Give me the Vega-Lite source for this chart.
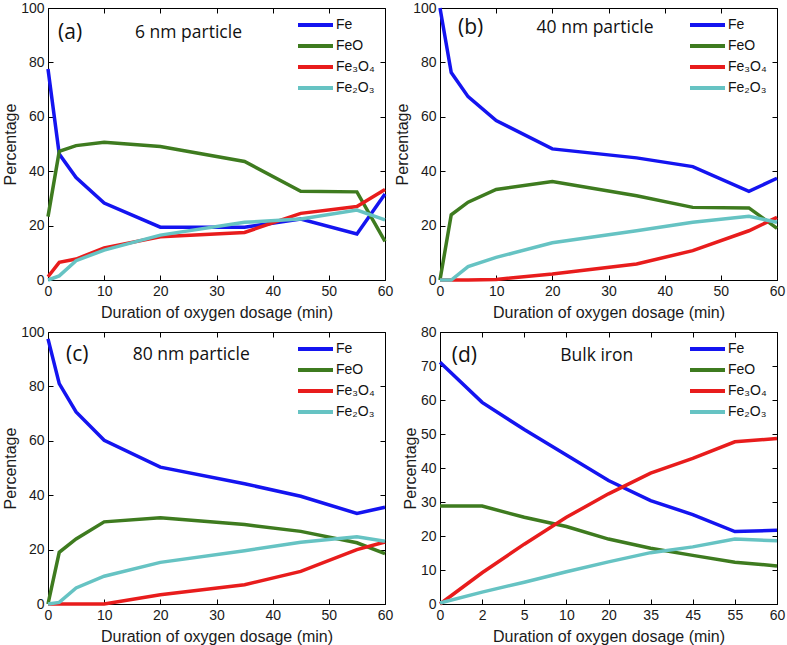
{
  "$schema": "https://vega.github.io/schema/vega-lite/v6.json",
  "padding": {"left": 2, "top": 0, "right": 0, "bottom": 0},
  "background": "white",
  "datasets": {
    "series": [
      {"panel":"a","species":"Fe","t":0,"pct":77.6},{"panel":"a","species":"Fe","t":2,"pct":46.3},{"panel":"a","species":"Fe","t":5,"pct":37.7},{"panel":"a","species":"Fe","t":10,"pct":28.3},{"panel":"a","species":"Fe","t":20,"pct":19.4},{"panel":"a","species":"Fe","t":35,"pct":19.4},{"panel":"a","species":"Fe","t":45,"pct":22.4},{"panel":"a","species":"Fe","t":55,"pct":16.9},{"panel":"a","species":"Fe","t":60,"pct":31.6},
      {"panel":"a","species":"FeO","t":0,"pct":23.3},{"panel":"a","species":"FeO","t":2,"pct":47.3},{"panel":"a","species":"FeO","t":5,"pct":49.4},{"panel":"a","species":"FeO","t":10,"pct":50.6},{"panel":"a","species":"FeO","t":20,"pct":49.1},{"panel":"a","species":"FeO","t":35,"pct":43.6},{"panel":"a","species":"FeO","t":45,"pct":32.6},{"panel":"a","species":"FeO","t":55,"pct":32.4},{"panel":"a","species":"FeO","t":60,"pct":14.2},
      {"panel":"a","species":"Fe₃O₄","t":0,"pct":1.2},{"panel":"a","species":"Fe₃O₄","t":2,"pct":6.5},{"panel":"a","species":"Fe₃O₄","t":5,"pct":7.7},{"panel":"a","species":"Fe₃O₄","t":10,"pct":11.8},{"panel":"a","species":"Fe₃O₄","t":20,"pct":15.9},{"panel":"a","species":"Fe₃O₄","t":35,"pct":17.5},{"panel":"a","species":"Fe₃O₄","t":45,"pct":24.5},{"panel":"a","species":"Fe₃O₄","t":55,"pct":27.0},{"panel":"a","species":"Fe₃O₄","t":60,"pct":33.3},
      {"panel":"a","species":"Fe₂O₃","t":0,"pct":0},{"panel":"a","species":"Fe₂O₃","t":2,"pct":1.5},{"panel":"a","species":"Fe₂O₃","t":5,"pct":7.1},{"panel":"a","species":"Fe₂O₃","t":10,"pct":11.0},{"panel":"a","species":"Fe₂O₃","t":20,"pct":16.5},{"panel":"a","species":"Fe₂O₃","t":35,"pct":21.2},{"panel":"a","species":"Fe₂O₃","t":45,"pct":22.4},{"panel":"a","species":"Fe₂O₃","t":55,"pct":25.7},{"panel":"a","species":"Fe₂O₃","t":60,"pct":22.1},

      {"panel":"b","species":"Fe","t":0,"pct":100},{"panel":"b","species":"Fe","t":2,"pct":76.3},{"panel":"b","species":"Fe","t":5,"pct":67.4},{"panel":"b","species":"Fe","t":10,"pct":58.6},{"panel":"b","species":"Fe","t":20,"pct":48.2},{"panel":"b","species":"Fe","t":35,"pct":44.9},{"panel":"b","species":"Fe","t":45,"pct":41.7},{"panel":"b","species":"Fe","t":55,"pct":32.6},{"panel":"b","species":"Fe","t":60,"pct":37.4},
      {"panel":"b","species":"FeO","t":0,"pct":0},{"panel":"b","species":"FeO","t":2,"pct":24.0},{"panel":"b","species":"FeO","t":5,"pct":28.6},{"panel":"b","species":"FeO","t":10,"pct":33.3},{"panel":"b","species":"FeO","t":20,"pct":36.2},{"panel":"b","species":"FeO","t":35,"pct":31.0},{"panel":"b","species":"FeO","t":45,"pct":26.7},{"panel":"b","species":"FeO","t":55,"pct":26.5},{"panel":"b","species":"FeO","t":60,"pct":19.0},
      {"panel":"b","species":"Fe₃O₄","t":0,"pct":0},{"panel":"b","species":"Fe₃O₄","t":2,"pct":0},{"panel":"b","species":"Fe₃O₄","t":5,"pct":0},{"panel":"b","species":"Fe₃O₄","t":10,"pct":0.2},{"panel":"b","species":"Fe₃O₄","t":20,"pct":2.2},{"panel":"b","species":"Fe₃O₄","t":35,"pct":5.9},{"panel":"b","species":"Fe₃O₄","t":45,"pct":10.8},{"panel":"b","species":"Fe₃O₄","t":55,"pct":18.1},{"panel":"b","species":"Fe₃O₄","t":60,"pct":23.0},
      {"panel":"b","species":"Fe₂O₃","t":0,"pct":0},{"panel":"b","species":"Fe₂O₃","t":2,"pct":0},{"panel":"b","species":"Fe₂O₃","t":5,"pct":4.9},{"panel":"b","species":"Fe₂O₃","t":10,"pct":8.3},{"panel":"b","species":"Fe₂O₃","t":20,"pct":13.7},{"panel":"b","species":"Fe₂O₃","t":35,"pct":18.1},{"panel":"b","species":"Fe₂O₃","t":45,"pct":21.2},{"panel":"b","species":"Fe₂O₃","t":55,"pct":23.4},{"panel":"b","species":"Fe₂O₃","t":60,"pct":21.2},

      {"panel":"c","species":"Fe","t":0,"pct":97.5},{"panel":"c","species":"Fe","t":2,"pct":81.0},{"panel":"c","species":"Fe","t":5,"pct":70.6},{"panel":"c","species":"Fe","t":10,"pct":60.2},{"panel":"c","species":"Fe","t":20,"pct":50.3},{"panel":"c","species":"Fe","t":35,"pct":44.2},{"panel":"c","species":"Fe","t":45,"pct":39.6},{"panel":"c","species":"Fe","t":55,"pct":33.3},{"panel":"c","species":"Fe","t":60,"pct":35.6},
      {"panel":"c","species":"FeO","t":0,"pct":0},{"panel":"c","species":"FeO","t":2,"pct":19.0},{"panel":"c","species":"FeO","t":5,"pct":23.9},{"panel":"c","species":"FeO","t":10,"pct":30.2},{"panel":"c","species":"FeO","t":20,"pct":31.7},{"panel":"c","species":"FeO","t":35,"pct":29.2},{"panel":"c","species":"FeO","t":45,"pct":26.7},{"panel":"c","species":"FeO","t":55,"pct":22.5},{"panel":"c","species":"FeO","t":60,"pct":18.5},
      {"panel":"c","species":"Fe₃O₄","t":0,"pct":0},{"panel":"c","species":"Fe₃O₄","t":2,"pct":0},{"panel":"c","species":"Fe₃O₄","t":5,"pct":0},{"panel":"c","species":"Fe₃O₄","t":10,"pct":0},{"panel":"c","species":"Fe₃O₄","t":20,"pct":3.4},{"panel":"c","species":"Fe₃O₄","t":35,"pct":7.1},{"panel":"c","species":"Fe₃O₄","t":45,"pct":12.0},{"panel":"c","species":"Fe₃O₄","t":55,"pct":20.0},{"panel":"c","species":"Fe₃O₄","t":60,"pct":22.8},
      {"panel":"c","species":"Fe₂O₃","t":0,"pct":0},{"panel":"c","species":"Fe₂O₃","t":2,"pct":0.6},{"panel":"c","species":"Fe₂O₃","t":5,"pct":5.9},{"panel":"c","species":"Fe₂O₃","t":10,"pct":10.2},{"panel":"c","species":"Fe₂O₃","t":20,"pct":15.3},{"panel":"c","species":"Fe₂O₃","t":35,"pct":19.6},{"panel":"c","species":"Fe₂O₃","t":45,"pct":22.7},{"panel":"c","species":"Fe₂O₃","t":55,"pct":24.7},{"panel":"c","species":"Fe₂O₃","t":60,"pct":23.1},

      {"panel":"d","species":"Fe","t":0,"pct":71.1},{"panel":"d","species":"Fe","t":2,"pct":59.3},{"panel":"d","species":"Fe","t":5,"pct":51.3},{"panel":"d","species":"Fe","t":10,"pct":43.8},{"panel":"d","species":"Fe","t":20,"pct":36.3},{"panel":"d","species":"Fe","t":35,"pct":30.4},{"panel":"d","species":"Fe","t":45,"pct":26.3},{"panel":"d","species":"Fe","t":55,"pct":21.3},{"panel":"d","species":"Fe","t":60,"pct":21.7},
      {"panel":"d","species":"FeO","t":0,"pct":28.8},{"panel":"d","species":"FeO","t":2,"pct":28.8},{"panel":"d","species":"FeO","t":5,"pct":25.5},{"panel":"d","species":"FeO","t":10,"pct":22.8},{"panel":"d","species":"FeO","t":20,"pct":19.1},{"panel":"d","species":"FeO","t":35,"pct":16.4},{"panel":"d","species":"FeO","t":45,"pct":14.3},{"panel":"d","species":"FeO","t":55,"pct":12.3},{"panel":"d","species":"FeO","t":60,"pct":11.2},
      {"panel":"d","species":"Fe₃O₄","t":0,"pct":0},{"panel":"d","species":"Fe₃O₄","t":2,"pct":9.2},{"panel":"d","species":"Fe₃O₄","t":5,"pct":17.6},{"panel":"d","species":"Fe₃O₄","t":10,"pct":25.5},{"panel":"d","species":"Fe₃O₄","t":20,"pct":32.4},{"panel":"d","species":"Fe₃O₄","t":35,"pct":38.5},{"panel":"d","species":"Fe₃O₄","t":45,"pct":42.8},{"panel":"d","species":"Fe₃O₄","t":55,"pct":47.7},{"panel":"d","species":"Fe₃O₄","t":60,"pct":48.7},
      {"panel":"d","species":"Fe₂O₃","t":0,"pct":0.3},{"panel":"d","species":"Fe₂O₃","t":2,"pct":3.5},{"panel":"d","species":"Fe₂O₃","t":5,"pct":6.4},{"panel":"d","species":"Fe₂O₃","t":10,"pct":9.5},{"panel":"d","species":"Fe₂O₃","t":20,"pct":12.4},{"panel":"d","species":"Fe₂O₃","t":35,"pct":15.1},{"panel":"d","species":"Fe₂O₃","t":45,"pct":16.8},{"panel":"d","species":"Fe₂O₃","t":55,"pct":19.1},{"panel":"d","species":"Fe₂O₃","t":60,"pct":18.6}
    ],
    "notes": [
      {"panel":"a","kind":"tag","t":1.8,"pct":90.8,"label":"(a)"},
      {"panel":"a","kind":"title","t":15.5,"pct":90.8,"label":"6 nm particle"},
      {"panel":"b","kind":"tag","t":3.2,"pct":92.6,"label":"(b)"},
      {"panel":"b","kind":"title","t":17.2,"pct":92.6,"label":"40 nm particle"},
      {"panel":"c","kind":"tag","t":3.2,"pct":91.5,"label":"(c)"},
      {"panel":"c","kind":"title","t":15.1,"pct":91.5,"label":"80 nm particle"},
      {"panel":"d","kind":"tag","t":2.1,"pct":72.9,"label":"(d)"},
      {"panel":"d","kind":"title","t":21.4,"pct":72.9,"label":"Bulk iron"}
    ]
  },
  "columns": 2,
  "spacing": {"row": 3, "column": 0},
  "resolve": {"scale": {"color": "independent"}, "legend": {"color": "independent"}},
  "concat": [
    {
      "width": 337, "height": 272,
      "layer": [
        {
          "data": {"name": "series"},
          "transform": [{"filter": "datum.panel === 'a'"}],
          "mark": {"type": "line", "strokeWidth": 3.5},
          "encoding": {
            "x": {"field": "t", "type": "quantitative", "scale": {"domain": [0, 60], "nice": false}, "axis": {"values": [0,10,20,30,40,50,60], "title": "Duration of oxygen dosage (min)"}},
            "y": {"field": "pct", "type": "quantitative", "scale": {"domain": [0, 100], "nice": false}, "axis": {"values": [0,20,40,60,80,100], "title": "Percentage"}},
            "color": {"field": "species", "type": "nominal", "sort": null, "scale": {"domain": ["Fe","FeO","Fe₃O₄","Fe₂O₃"], "range": ["#1414f0","#3e7b1f","#e81c1c","#66c3c3"]}, "legend": {"title": null}}
          }
        },
        {
          "data": {"name": "notes"},
          "transform": [{"filter": "datum.panel === 'a' && datum.kind === 'tag'"}],
          "mark": {"type": "text", "align": "left", "baseline": "middle", "font": "Open Sans", "fontSize": 21, "color": "#111"},
          "encoding": {
            "x": {"field": "t", "type": "quantitative", "axis": {"orient": "top", "labels": false, "title": null, "domain": false, "values": [0,10,20,30,40,50,60]}},
            "y": {"field": "pct", "type": "quantitative", "axis": {"orient": "right", "labels": false, "title": null, "domain": false, "values": [0,20,40,60,80,100]}},
            "text": {"field": "label"}
          }
        },
        {
          "data": {"name": "notes"},
          "transform": [{"filter": "datum.panel === 'a' && datum.kind === 'title'"}],
          "mark": {"type": "text", "align": "left", "baseline": "middle", "font": "Open Sans", "fontSize": 17.5, "color": "#111"},
          "encoding": {
            "x": {"field": "t", "type": "quantitative", "axis": null},
            "y": {"field": "pct", "type": "quantitative", "axis": null},
            "text": {"field": "label"}
          }
        }
      ],
      "resolve": {"axis": {"x": "independent", "y": "independent"}}
    },
    {
      "width": 337, "height": 272,
      "layer": [
        {
          "data": {"name": "series"},
          "transform": [{"filter": "datum.panel === 'b'"}],
          "mark": {"type": "line", "strokeWidth": 3.5},
          "encoding": {
            "x": {"field": "t", "type": "quantitative", "scale": {"domain": [0, 60], "nice": false}, "axis": {"values": [0,10,20,30,40,50,60], "title": "Duration of oxygen dosage (min)"}},
            "y": {"field": "pct", "type": "quantitative", "scale": {"domain": [0, 100], "nice": false}, "axis": {"values": [0,20,40,60,80,100], "title": "Percentage"}},
            "color": {"field": "species", "type": "nominal", "sort": null, "scale": {"domain": ["Fe","FeO","Fe₃O₄","Fe₂O₃"], "range": ["#1414f0","#3e7b1f","#e81c1c","#66c3c3"]}, "legend": {"title": null}}
          }
        },
        {
          "data": {"name": "notes"},
          "transform": [{"filter": "datum.panel === 'b' && datum.kind === 'tag'"}],
          "mark": {"type": "text", "align": "left", "baseline": "middle", "font": "Open Sans", "fontSize": 21, "color": "#111"},
          "encoding": {
            "x": {"field": "t", "type": "quantitative", "axis": {"orient": "top", "labels": false, "title": null, "domain": false, "values": [0,10,20,30,40,50,60]}},
            "y": {"field": "pct", "type": "quantitative", "axis": {"orient": "right", "labels": false, "title": null, "domain": false, "values": [0,20,40,60,80,100]}},
            "text": {"field": "label"}
          }
        },
        {
          "data": {"name": "notes"},
          "transform": [{"filter": "datum.panel === 'b' && datum.kind === 'title'"}],
          "mark": {"type": "text", "align": "left", "baseline": "middle", "font": "Open Sans", "fontSize": 17.5, "color": "#111"},
          "encoding": {
            "x": {"field": "t", "type": "quantitative", "axis": null},
            "y": {"field": "pct", "type": "quantitative", "axis": null},
            "text": {"field": "label"}
          }
        }
      ],
      "resolve": {"axis": {"x": "independent", "y": "independent"}}
    },
    {
      "width": 337, "height": 272,
      "layer": [
        {
          "data": {"name": "series"},
          "transform": [{"filter": "datum.panel === 'c'"}],
          "mark": {"type": "line", "strokeWidth": 3.5},
          "encoding": {
            "x": {"field": "t", "type": "quantitative", "scale": {"domain": [0, 60], "nice": false}, "axis": {"values": [0,10,20,30,40,50,60], "title": "Duration of oxygen dosage (min)"}},
            "y": {"field": "pct", "type": "quantitative", "scale": {"domain": [0, 100], "nice": false}, "axis": {"values": [0,20,40,60,80,100], "title": "Percentage"}},
            "color": {"field": "species", "type": "nominal", "sort": null, "scale": {"domain": ["Fe","FeO","Fe₃O₄","Fe₂O₃"], "range": ["#1414f0","#3e7b1f","#e81c1c","#66c3c3"]}, "legend": {"title": null}}
          }
        },
        {
          "data": {"name": "notes"},
          "transform": [{"filter": "datum.panel === 'c' && datum.kind === 'tag'"}],
          "mark": {"type": "text", "align": "left", "baseline": "middle", "font": "Open Sans", "fontSize": 21, "color": "#111"},
          "encoding": {
            "x": {"field": "t", "type": "quantitative", "axis": {"orient": "top", "labels": false, "title": null, "domain": false, "values": [0,10,20,30,40,50,60]}},
            "y": {"field": "pct", "type": "quantitative", "axis": {"orient": "right", "labels": false, "title": null, "domain": false, "values": [0,20,40,60,80,100]}},
            "text": {"field": "label"}
          }
        },
        {
          "data": {"name": "notes"},
          "transform": [{"filter": "datum.panel === 'c' && datum.kind === 'title'"}],
          "mark": {"type": "text", "align": "left", "baseline": "middle", "font": "Open Sans", "fontSize": 17.5, "color": "#111"},
          "encoding": {
            "x": {"field": "t", "type": "quantitative", "axis": null},
            "y": {"field": "pct", "type": "quantitative", "axis": null},
            "text": {"field": "label"}
          }
        }
      ],
      "resolve": {"axis": {"x": "independent", "y": "independent"}}
    },
    {
      "width": 337, "height": 272,
      "layer": [
        {
          "data": {"name": "series"},
          "transform": [{"filter": "datum.panel === 'd'"}],
          "mark": {"type": "line", "strokeWidth": 3.5},
          "encoding": {
            "x": {"field": "t", "type": "ordinal", "scale": {"type": "point", "padding": 0, "domain": [0,2,5,10,20,35,45,55,60]}, "axis": {"labelAngle": 0, "title": "Duration of oxygen dosage (min)"}},
            "y": {"field": "pct", "type": "quantitative", "scale": {"domain": [0, 80], "nice": false}, "axis": {"values": [0,10,20,30,40,50,60,70,80], "title": "Percentage"}},
            "color": {"field": "species", "type": "nominal", "sort": null, "scale": {"domain": ["Fe","FeO","Fe₃O₄","Fe₂O₃"], "range": ["#1414f0","#3e7b1f","#e81c1c","#66c3c3"]}, "legend": {"title": null}}
          }
        },
        {
          "data": {"name": "notes"},
          "transform": [{"filter": "datum.panel === 'd' && datum.kind === 'tag'"}],
          "mark": {"type": "text", "align": "left", "baseline": "middle", "font": "Open Sans", "fontSize": 21, "color": "#111"},
          "encoding": {
            "x": {"field": "t", "type": "quantitative", "scale": {"domain": [0, 60], "nice": false}, "axis": {"orient": "top", "labels": false, "title": null, "domain": false, "values": [0,7.5,15,22.5,30,37.5,45,52.5,60]}},
            "y": {"field": "pct", "type": "quantitative", "axis": {"orient": "right", "labels": false, "title": null, "domain": false, "values": [0,10,20,30,40,50,60,70,80]}},
            "text": {"field": "label"}
          }
        },
        {
          "data": {"name": "notes"},
          "transform": [{"filter": "datum.panel === 'd' && datum.kind === 'title'"}],
          "mark": {"type": "text", "align": "left", "baseline": "middle", "font": "Open Sans", "fontSize": 17.5, "color": "#111"},
          "encoding": {
            "x": {"field": "t", "type": "quantitative", "scale": {"domain": [0, 60], "nice": false}, "axis": null},
            "y": {"field": "pct", "type": "quantitative", "axis": null},
            "text": {"field": "label"}
          }
        }
      ],
      "resolve": {"scale": {"x": "independent"}, "axis": {"x": "independent", "y": "independent"}}
    }
  ],
  "config": {
    "view": {"stroke": "#000", "strokeWidth": 1},
    "axis": {
      "grid": false,
      "labelFont": "Liberation Sans", "labelFontSize": 14, "labelColor": "#1a1a1a",
      "titleFont": "Liberation Sans", "titleFontSize": 16, "titleFontWeight": "normal", "titleColor": "#1a1a1a",
      "domainColor": "#000", "tickColor": "#000", "tickSize": -5, "labelPadding": 9, "labelFlush": false
    },
    "axisX": {"titlePadding": 6},
    "axisY": {"titlePadding": 2},
    "legend": {
      "orient": "top-right", "offset": 10, "padding": 0,
      "labelFont": "Liberation Sans", "labelFontSize": 14, "labelColor": "#111",
      "symbolType": "M0,0H7", "symbolSize": 100, "symbolStrokeWidth": 4, "labelOffset": 31, "rowPadding": 5
    }
  }
}
